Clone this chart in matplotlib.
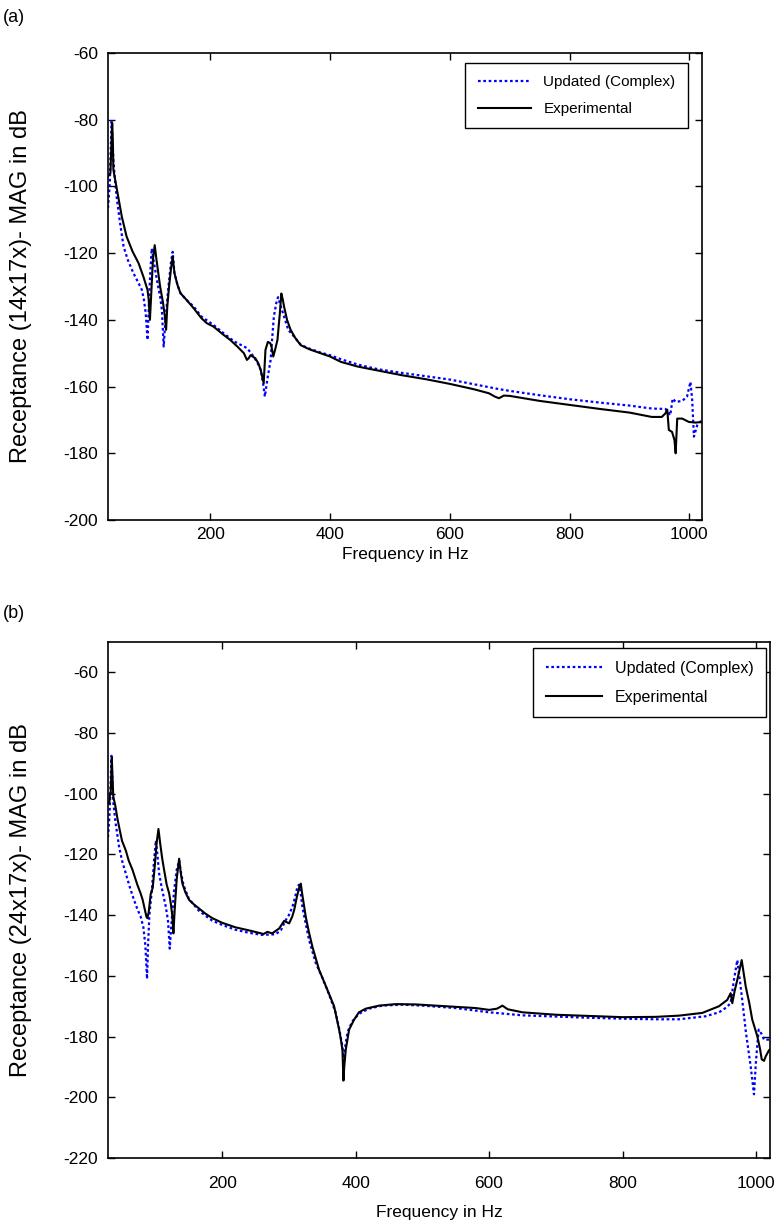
import matplotlib
matplotlib.use("Agg")
import matplotlib.pyplot as plt

plt.rcParams['font.family'] = ['Liberation Sans', 'DejaVu Sans']
plt.rcParams['axes.unicode_minus'] = False

# ---------------- data (a) ----------------
a_exp_f = [29, 33, 35, 36, 37, 38, 42, 46, 52, 60, 70, 80, 88, 95, 97, 99, 101, 104, 107, 110,
           116, 121, 124, 126, 128, 131, 134, 137, 140, 145, 150, 160, 172, 185, 194, 205, 222,
           233, 245, 256, 261, 264, 267, 275, 280, 284, 289, 292, 296, 300, 302, 305, 308, 312,
           316, 318.5, 321, 323, 328, 334, 342, 351, 365, 384, 400, 418, 446, 480, 520, 560, 600,
           640, 665, 675, 682, 690, 700, 750, 800, 850, 900, 937, 954, 960, 963, 965.6, 971, 975,
           977, 979.6, 988, 999, 1010, 1022]
a_exp_db = [-97, -96, -86, -81, -86, -95, -99, -103, -109, -115, -119.5, -123, -127, -131, -134,
            -140, -133, -122, -117.6, -122, -130, -135, -139, -143, -136, -130, -125, -121, -126,
            -129.5, -132, -134, -136.5, -139.5, -141, -142, -144.5, -146, -148, -150, -152,
            -151.5, -150.6, -151.5, -153, -155, -159, -149, -146.6, -147, -148, -151, -149, -146,
            -138, -132.1, -134, -136, -140, -143, -145.5, -147.6, -148.8, -150, -151, -152.6,
            -154, -155.2, -156.6, -157.8, -159.2, -160.8, -162, -163, -163.5, -162.7, -162.8,
            -164.3, -165.5, -166.7, -167.8, -169.1, -169.1, -168, -166.9, -173, -173.6, -176,
            -180, -169.6, -169.6, -170.6, -170.8, -170.6]

a_upd_f = [29, 32, 34, 35, 36, 38, 41, 44, 50, 55, 62, 71.5, 80, 85.5, 89, 92, 95, 97, 99, 102,
           105, 110.6, 116, 119, 122, 125, 130, 134, 137, 140, 145, 150, 160, 172, 185, 205, 222,
           240, 261.5, 270, 278, 284, 288, 291, 295, 300.6, 303, 306, 310, 313, 316, 323, 330,
           342, 351, 365, 384, 400, 418, 446, 480, 520, 560, 600, 640, 680, 700, 750, 800, 850,
           900, 937.6, 960, 968, 972, 977, 988, 996, 1001.7, 1004.6, 1007.5, 1013, 1021]
a_upd_db = [-106.5, -99, -86, -80, -84, -92, -99, -104, -112, -118, -122, -126, -129, -131, -134,
            -138, -146, -137, -128, -118.6, -122, -128, -133, -137, -148, -140, -130, -123,
            -119.6, -126, -129.5, -132, -134, -136, -139, -141.5, -144, -146.5, -148.5, -150.5,
            -152.6, -155, -159, -163, -158, -152, -146, -139, -135, -133.2, -135, -139, -143,
            -145.5, -147.5, -148.6, -149.8, -150.6, -151.8, -153.4, -154.8, -155.9, -156.9,
            -157.9, -159.3, -160.7, -161.3, -162.6, -163.8, -164.8, -165.7, -166.6, -166.7,
            -168.6, -163.6, -164.6, -164.3, -163, -158.6, -164, -175, -171.6, -170]

# ---------------- data (b) ----------------
b_exp_f = [29, 31, 32, 33, 34, 34.7, 36, 37, 40, 43, 45.7, 50, 55.7, 60, 65.6, 73, 78, 81, 83,
           86.6, 88, 90, 93, 96, 99, 102, 104.6, 107, 110, 113, 117, 120.6, 123, 125.5, 127, 129,
           132, 135.6, 138, 140.5, 145, 150.6, 158, 165.5, 175, 185.5, 200, 220, 240, 255, 262,
           268, 275, 285.4, 292.9, 300.4, 305, 307.9, 312, 316, 317.9, 320, 325.4, 330, 335.3,
           345.3, 357.8, 367.8, 375.3, 378, 380.3, 381.8, 383, 385.3, 390.3, 397.8, 405, 415.3,
           435, 460, 490, 520, 550, 580, 600, 612, 620, 628, 650, 700, 750, 800, 850, 884.6,
           919.6, 944.6, 957, 962, 964.5, 968, 972, 978.6, 984.6, 990, 994.4, 1002, 1006, 1008.6,
           1012, 1014.6, 1019.5, 1022]
b_exp_db = [-103.3, -103, -100, -100, -93, -88.1, -96, -101, -104, -108, -111, -115.5, -118.7,
            -122, -125, -130, -132.9, -135, -137, -140.5, -141, -139, -133, -131, -124, -116,
            -111.6, -116, -121, -125, -130, -132.8, -136, -140.5, -146, -138, -128, -121.4, -126,
            -129.6, -132.5, -135, -136.5, -137.8, -139.5, -141, -142.5, -144, -145, -145.8,
            -146.2, -145.5, -146, -144.4, -141.9, -142.7, -140.5, -138.4, -134, -130.5, -129.6,
            -133, -140.6, -145.5, -150.4, -158, -164.6, -170, -177.7, -181, -184.3, -194.5, -190,
            -184.3, -177.7, -174.4, -172, -170.8, -169.8, -169.3, -169.4, -169.8, -170.2, -170.6,
            -171.2, -170.8, -169.8, -171, -172, -172.8, -173.2, -173.6, -173.5, -173.1, -172.2,
            -170, -167.9, -165.7, -169, -165, -161.3, -154.8, -163.5, -169, -174.4, -179.9, -184,
            -187.5, -188, -186.5, -184.5, -184]

b_upd_f = [29, 31, 32.5, 34.2, 35.5, 36.7, 40, 45.7, 50, 55.7, 62, 68, 73, 78, 82, 85, 87.5, 89,
           91, 94.7, 98, 100.7, 103, 105.6, 110, 115.7, 119, 121.5, 124, 128, 132, 135.6, 138,
           142, 150, 165, 185, 200, 220, 240, 260, 280, 288, 295.4, 300, 305.3, 310, 312.8, 315,
           317, 320.3, 325, 330.3, 340.4, 350, 360, 370, 376, 380, 382, 384, 388, 395, 405, 420,
           440, 470, 500, 550, 600, 650, 700, 750, 800, 850, 884.6, 924.6, 944.6, 955, 962, 967,
           972, 977, 981, 985, 992, 997, 1000, 1004, 1008, 1012, 1022]
b_upd_db = [-114.3, -108, -100, -87.5, -95, -102.3, -109, -117.6, -122, -126.3, -131, -135, -138,
            -140.5, -144, -150, -161, -150, -140, -131.8, -122, -115.4, -120, -126.3, -131.5,
            -137.3, -142, -151, -143, -132, -125, -122, -125.5, -130, -134.5, -138.5, -141.8,
            -143.2, -144.8, -145.8, -146.5, -146.3, -145, -141.6, -140, -137.3, -133.5, -130.7,
            -130, -131.5, -137.3, -142.5, -148.2, -155.8, -160.5, -166, -172, -178, -183, -187,
            -184, -178.5, -175, -172.5, -170.8, -169.8, -169.5, -169.8, -170.6, -172, -173,
            -173.4, -173.8, -174.1, -174.3, -174.3, -173.3, -172, -170.5, -169, -161.3, -154.8,
            -163.5, -171, -178.8, -189.7, -199, -188, -177.7, -179, -181, -181]

x_ticks = [200, 400, 600, 800, 1000]
a_yticks = [-200, -180, -160, -140, -120, -100, -80, -60]
b_yticks = [-220, -200, -180, -160, -140, -120, -100, -80, -60]

W, H = 782, 1229
fig = plt.figure(figsize=(W / 100, H / 100), dpi=100)

ax1 = fig.add_axes([108 / W, 1 - 520 / H, 594 / W, 467 / H])
ax2 = fig.add_axes([108 / W, 1 - 1158 / H, 662 / W, 516 / H])


def style(ax, f_u, db_u, f_e, db_e, ylim, yticks, ylabel, leg_anchor, leg_fs,
          axw, axh, xpad, xlab_y):
    ax.plot(f_u, db_u, color='#0000ff', lw=1.6, linestyle=(0, (1.2, 1.2)),
            label='Updated (Complex)')
    ax.plot(f_e, db_e, color='black', lw=1.5, label='Experimental')
    ax.set_xlim(29, 1021)
    ax.set_ylim(*ylim)
    ax.set_xticks(x_ticks)
    ax.set_yticks(yticks)
    ax.tick_params(direction='in', top=True, right=True, length=5, width=1,
                   labelsize=12.5, pad=7)
    ax.tick_params(axis='x', pad=xpad)
    for s in ax.spines.values():
        s.set_linewidth(1.2)
    ax.set_xlabel('Frequency in Hz', fontsize=12.5)
    ax.xaxis.label.set_verticalalignment('center')
    ax.xaxis.set_label_coords(0.5, -xlab_y / axh)
    ax.set_ylabel(ylabel, fontsize=17)
    ax.yaxis.label.set_verticalalignment('center')
    ax.yaxis.set_label_coords((21 - 108) / axw, 0.5)
    leg = ax.legend(loc='upper right', bbox_to_anchor=leg_anchor, fontsize=leg_fs,
                    handlelength=3.5, labelspacing=0.85, borderpad=0.8,
                    fancybox=False, framealpha=1, edgecolor='black',
                    borderaxespad=0)
    leg.get_frame().set_linewidth(1.0)


style(ax1, a_upd_f, a_upd_db, a_exp_f, a_exp_db, (-200, -60), a_yticks,
      'Receptance (14x17x)- MAG in dB', (0.976, 0.979), 11, 594, 467, 5, 34)
style(ax2, b_upd_f, b_upd_db, b_exp_f, b_exp_db, (-220, -50), b_yticks,
      'Receptance (24x17x)- MAG in dB', (0.994, 0.988), 11.5, 662, 516, 13, 55)

fig.text(3 / W, 1 - 18 / H, '(a)', fontsize=13, va='center', ha='left')
fig.text(3 / W, 1 - 613 / H, '(b)', fontsize=13, va='center', ha='left')

fig.savefig('out.png', dpi=100)
